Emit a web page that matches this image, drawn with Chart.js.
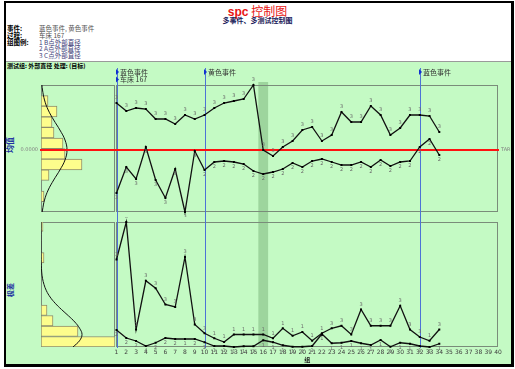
<!DOCTYPE html>
<html>
<head>
<meta charset="utf-8">
<script src="https://cdn.jsdelivr.net/npm/chart.js@4.4.1/dist/chart.umd.min.js"></script>
<style>
  body { margin: 0; background: #fff; }
  #page { position: relative; width: 515px; height: 369px; overflow: hidden; background: #fff;
          font-family: "Noto Sans CJK SC", sans-serif; }
  .t { position: absolute; white-space: nowrap; line-height: 1; }
  .b { font-weight: bold; color: #000; }
  canvas { position: absolute; }
</style>
</head>
<body>
<div id="page">
  <div style="position:absolute;left:4px;top:1px;width:505px;height:361px;border-style:solid;border-color:#000;border-width:2px 3px 3px 2px;"></div>
  <div style="position:absolute;left:6px;top:61px;width:505px;height:303px;background:#c4fac4;border-top:1px solid #9a9a9a;box-sizing:border-box;"></div>

  <div class="t" style="left:0;width:515px;text-align:center;top:5px;font-size:12px;color:#e81414;">
    <span style="font-family:'Liberation Sans',Arial,sans-serif;font-weight:bold;">spc</span> 控制图</div>
  <div class="t" style="left:0;width:515px;text-align:center;top:17px;font-size:7px;font-weight:bold;color:#1a1a5a;">多事件、多测试控制图</div>

  <div class="t b" style="left:7px;top:25px;font-size:6.5px;">事件:</div>
  <div class="t" style="left:39px;top:25px;font-size:6.5px;color:#505050;">蓝色事件, 黄色事件</div>
  <div class="t b" style="left:7px;top:31.5px;font-size:6.5px;">过程:</div>
  <div class="t" style="left:39px;top:31.5px;font-size:6.5px;color:#505050;">车床 167</div>
  <div class="t b" style="left:7px;top:38.5px;font-size:6.5px;">组图例:</div>
  <div class="t" style="left:39px;top:38.5px;font-size:6.5px;color:#44447a;">1 B点外部直径</div>
  <div class="t" style="left:39px;top:45px;font-size:6.5px;color:#44447a;">2 A点外部直径</div>
  <div class="t" style="left:39px;top:51.5px;font-size:6.5px;color:#44447a;">3 C点外部直径</div>
  <div class="t b" style="left:7px;top:63px;font-size:6px;">测试组: 外部直径 处理: (目标)</div>

  <div class="t" style="left:10px;top:145px;font-size:8px;font-weight:bold;color:#2030a0;transform:translate(-50%,-50%) rotate(-90deg);">均值</div>
  <div class="t" style="left:10px;top:290px;font-size:7px;font-weight:bold;color:#2030a0;transform:translate(-50%,-50%) rotate(-90deg);">极差</div>

  <canvas id="meanHist" width="101" height="155" style="left:15px;top:62px;"></canvas>
  <canvas id="meanMain" width="415" height="155" style="left:100px;top:62px;"></canvas>
  <canvas id="rangeHist" width="101" height="152" style="left:15px;top:217px;"></canvas>
  <canvas id="rangeMain" width="415" height="152" style="left:100px;top:217px;"></canvas>
</div>

<script>
// group numbers (x axis)
const groupNo = [1, 2, 3, 4, 5, 6, 7, 8, 9, 10, 11, 12, 13, 14, 15, 16, 17,
  18, 19, 20, 21, 22, 23, 24, 25, 26, 27, 28, 29, 30, 31, 32, 33, 34];
const xMin = 1, xMax = 40;

// mean panel
const meanHigh = [4.7, 3.9, 4.2, 4.1, 3.1, 3.1, 2.6, 3.5, 3.1, 3.5, 4.2, 4.7, 4.9, 5.1, 6.5, 0.0, -0.6,
  0.3, 0.9, 2.0, 2.3, 0.9, 1.5, 3.8, 2.8, 2.8, 4.4, 3.5, 1.5, 2.2, 3.5, 3.5, 3.4, 1.8];
const meanLow = [-4.3, -1.7, -2.9, 0.3, -3.0, -4.8, -1.9, -6.2, -0.1, -2.0, -1.2, -1.1, -1.2, -1.4, -2.1, -2.4, -2.2,
  -1.9, -1.3, -1.7, -1.1, -0.9, -1.2, -1.5, -1.5, -1.2, -1.7, -1.0, -1.6, -1.2, -1.1, 0.3, 1.1, -0.5];
const meanHighTag = ['3', '3', '3', '3', '3', '3', '3', '3', '3', '3', '3', '3', '3', '3', '3', '3', '3',
  '3', '3', '3', '3', '3', '3', '3', '3', '3', '3', '3', '3', '3', '3', '3', '3', '3'];
const meanLowTag = ['3', '3', '3', '3', '3', '3', '3', '3', '3', '2', '2', '2', '2', '2', '2', '2', '2',
  '2', '2', '2', '2', '2', '2', '2', '2', '2', '2', '2', '2', '2', '2', '2', '2', '2'];
const meanMin = -6.2, meanMax = 6.5, target = 0;

// range panel
const rangeHigh = [7.0, 10.0, 1.4, 5.3, 4.7, 3.4, 3.2, 7.2, 1.8, 1.1, 0.7, 0.4, 1.0, 1.0, 1.0, 1.0, 0.7,
  1.5, 0.9, 1.2, 0.5, 1.1, 1.5, 1.7, 1.0, 3.0, 1.7, 1.7, 1.7, 3.3, 1.4, 0.8, 0.5, 1.4];
const rangeLow = [1.36, 0.72, 0.48, 0.08, 0.34, 0.72, 0.64, 0.64, 0.64, 0.38, 0.08, 0.08, 0.0, 0.06, 0.06, 0.54, 0.38,
  0.14, 0.02, 0.02, 0.08, 1.04, 0.3, 0.34, 0.48, 0.3, 0.16, 0.56, 0.02, 0.34, 0.26, 0.08, 0.0, 0.26];
const rangeHighTag = ['3', '3', '3', '3', '3', '3', '3', '3', '3', '3', '1', '1', '1', '1', '1', '1', '1',
  '1', '1', '1', '1', '1', '3', '3', '3', '3', '3', '3', '3', '3', '3', '3', '1', '3'];
const rangeLowTag = ['2', '2', '2', '4', '2', '2', '2', '1', '2', '2', '1', '1', '1', '1', '1', '1', '1',
  '1', '1', '1', '1', '1', '1', '1', '1', '1', '1', '1', '1', '1', '1', '1', '1', '1'];
const rangeMin = 0, rangeMax = 10;

// histograms (bin middles and frequencies) and fitted curves
const histMax = 74;
const meanBinMid = [5.97, 4.91, 3.85, 2.79, 1.73, 0.67, -0.39, -1.45, -2.51, -3.57, -4.63, -5.69];
const meanBinCount = [0, 7, 16, 11, 13, 22, 24, 41, 8, 0, 3, 0];
const meanCurveAt = [6.5, 6, 5, 4, 3, 2, 1, 0, -1, -2, -3, -4, -5, -6, -6.2];
const meanCurveFreq = [0.9, 1.5, 3.5, 7.2, 12.7, 18.9, 24, 26, 24, 18.9, 12.7, 7.2, 3.5, 1.5, 1.2];
const rangeBinMid = [0.42, 1.26, 2.1, 2.94, 3.78, 4.62, 5.46, 6.3, 7.14, 7.98, 8.82, 9.66];
const rangeBinCount = [74, 37, 12, 6, 0, 0, 0, 0, 3, 0, 0, 2];
const rangeCurveAt = [0, 0.5, 1, 1.5, 2, 2.5, 3, 3.5, 4, 4.5, 5, 5.5, 6, 7, 8, 10];
const rangeCurveFreq = [32, 38.5, 41, 38.6, 33.8, 27.4, 20.5, 14.2, 9.1, 5.4, 3, 1.5, 0.7, 0.1, 0, 0];

// events
const eventAt = [1, 10, 32];
const eventText = [['蓝色事件', '车床 167'], ['黄色事件'], ['蓝色事件']];
const shadedGroup = 16;

Chart.defaults.font.family = '"DejaVu Sans", sans-serif';
const boxColor = '#7a8c7a';
const redColor = '#ff1010';

function drawBox(ctx, a) {
  const l = Math.floor(a.left) + 0.5, t = Math.floor(a.top) + 0.5;
  const r = Math.floor(a.right) - 0.5, b = Math.floor(a.bottom) - 0.5;
  ctx.strokeStyle = boxColor;
  ctx.lineWidth = 1;
  ctx.strokeRect(l, t, r - l, b - t);
}

const mainDecor = {
  id: 'mainDecor',
  beforeDatasetsDraw(chart, args, o) {
    const { ctx, chartArea: a, scales: { x, y } } = chart;
    ctx.save();
    // shaded group
    const s1 = x.getPixelForValue(shadedGroup - 0.5);
    const s2 = x.getPixelForValue(shadedGroup + 0.5);
    ctx.fillStyle = 'rgba(80,140,80,0.33)';
    ctx.fillRect(s1, o.bandTop, s2 - s1, o.bandBottom - o.bandTop);
    drawBox(ctx, a);
    // event lines
    ctx.strokeStyle = '#4d72d6';
    ctx.lineWidth = 1;
    eventAt.forEach(e => {
      const px = Math.round(x.getPixelForValue(e)) + 0.5;
      ctx.beginPath();
      ctx.moveTo(px, o.lineTop);
      ctx.lineTo(px, o.lineBottom);
      ctx.stroke();
    });
    // target line
    if (o.target) {
      const ty = y.getPixelForValue(target);
      ctx.strokeStyle = redColor;
      ctx.lineWidth = 2;
      ctx.beginPath();
      ctx.moveTo(a.left - 1, ty);
      ctx.lineTo(a.right + 1, ty);
      ctx.stroke();
      ctx.fillStyle = '#808080';
      ctx.font = '5px "DejaVu Sans"';
      ctx.textBaseline = 'middle';
      ctx.fillText('TAR', a.right + 3, ty);
    }
    // event labels
    if (o.labels) {
      ctx.textBaseline = 'middle';
      eventAt.forEach((e, i) => {
        const px = Math.round(x.getPixelForValue(e));
        eventText[i].forEach((txt, j) => {
          const yy = 10 + j * 7.5;
          ctx.fillStyle = '#1030d0';
          ctx.beginPath();
          ctx.moveTo(px - 1, yy - 3);
          ctx.lineTo(px + 2, yy);
          ctx.lineTo(px - 1, yy + 3);
          ctx.closePath();
          ctx.fill();
          ctx.fillStyle = '#333';
          ctx.font = '7px "Noto Sans CJK SC"';
          ctx.fillText(txt, px + 3, yy);
        });
      });
    }
    ctx.restore();
  },
  afterDatasetsDraw(chart) {
    const { ctx } = chart;
    ctx.save();
    ctx.fillStyle = '#6a6a6a';
    ctx.font = '5px "DejaVu Sans"';
    ctx.textAlign = 'center';
    ctx.textBaseline = 'middle';
    chart.data.datasets.forEach((ds, i) => {
      if (!ds.tags) return;
      chart.getDatasetMeta(i).data.forEach((pt, k) => {
        ctx.fillText(ds.tags[k], pt.x, pt.y + (ds.tagBelow ? 5 : -5));
      });
    });
    ctx.restore();
  }
};

const histDecor = {
  id: 'histDecor',
  beforeDatasetsDraw(chart) {
    const { ctx, chartArea: a } = chart;
    ctx.save();
    drawBox(ctx, a);
    ctx.restore();
  },
  afterDatasetsDraw(chart, args, o) {
    if (!o.target) return;
    const { ctx, chartArea: a, scales: { y } } = chart;
    const ty = y.getPixelForValue(target);
    ctx.save();
    ctx.strokeStyle = redColor;
    ctx.lineWidth = 2;
    ctx.beginPath();
    ctx.moveTo(a.left - 1, ty);
    ctx.lineTo(a.right + 1, ty);
    ctx.stroke();
    ctx.fillStyle = '#808080';
    ctx.font = '5px "DejaVu Sans"';
    ctx.textAlign = 'right';
    ctx.textBaseline = 'middle';
    ctx.fillText(target.toFixed(4), a.left - 3, ty);
    ctx.restore();
  }
};

function seriesSet(values, tags, below) {
  return {
    data: groupNo.map((g, i) => ({ x: g, y: values[i] })),
    borderColor: '#111',
    borderWidth: 1.3,
    pointStyle: 'rect',
    pointRadius: 1.4,
    pointBackgroundColor: '#000',
    pointBorderWidth: 0,
    tension: 0,
    clip: false,
    tags: tags,
    tagBelow: below
  };
}

function mainChart(id, high, highTag, low, lowTag, yMin, yMax, padding, decor, showX) {
  return new Chart(document.getElementById(id), {
    type: 'line',
    data: { datasets: [seriesSet(high, highTag, false), seriesSet(low, lowTag, true)] },
    options: {
      responsive: false,
      animation: false,
      events: [],
      layout: { padding },
      plugins: { legend: { display: false }, tooltip: { enabled: false }, mainDecor: decor },
      scales: {
        x: showX ? {
          type: 'linear', min: xMin, max: xMax,
          grid: { display: false, drawTicks: false }, border: { display: false },
          ticks: { stepSize: 1, autoSkip: false, maxRotation: 0, padding: 2, color: '#404040',
                   font: { size: 6 } },
          title: { display: true, text: '组', color: '#222', padding: { top: 0, bottom: 6 },
                   font: { size: 6, weight: 'bold', family: '"Noto Sans CJK SC"' } },
          afterFit: s => { s.height = 22; }
        } : { type: 'linear', min: xMin, max: xMax, display: false },
        y: { type: 'linear', min: yMin, max: yMax, display: false }
      }
    },
    plugins: [mainDecor]
  });
}

function histChart(id, mids, counts, curveAt, curveFreq, yMin, yMax, padding, showTarget) {
  return new Chart(document.getElementById(id), {
    type: 'bar',
    data: {
      datasets: [
        {
          type: 'line',
          data: curveAt.map((v, i) => ({ x: curveFreq[i], y: v })),
          borderColor: '#111',
          borderWidth: 1,
          pointRadius: 0,
          tension: 0.4,
          clip: true
        },
        {
          data: mids.map((m, i) => ({ x: counts[i], y: m })),
          backgroundColor: '#fdfd8c',
          borderColor: '#8c8c6c',
          borderWidth: 1,
          borderSkipped: false,
          barThickness: 'flex',
          barPercentage: 1,
          categoryPercentage: 1
        }
      ]
    },
    options: {
      indexAxis: 'y',
      responsive: false,
      animation: false,
      events: [],
      layout: { padding },
      plugins: { legend: { display: false }, tooltip: { enabled: false }, histDecor: { target: showTarget } },
      scales: {
        x: { type: 'linear', min: 0, max: histMax, display: false },
        y: { type: 'linear', min: yMin, max: yMax, display: false, offset: false, ticks: { includeBounds: false } }
      }
    },
    plugins: [histDecor]
  });
}

histChart('meanHist', meanBinMid, meanBinCount, meanCurveAt, meanCurveFreq, meanMin, meanMax,
  { left: 26, top: 23, right: 1, bottom: 5 }, true);
histChart('rangeHist', rangeBinMid, rangeBinCount, rangeCurveAt, rangeCurveFreq, rangeMin, rangeMax,
  { left: 26, top: 5, right: 1, bottom: 22 }, false);

mainChart('meanMain', meanHigh, meanHighTag, meanLow, meanLowTag, meanMin, meanMax,
  { left: 16.5, top: 23, right: 17, bottom: 5 },
  { bandTop: 20, bandBottom: 155, lineTop: 6, lineBottom: 155, target: true, labels: true }, false);
mainChart('rangeMain', rangeHigh, rangeHighTag, rangeLow, rangeLowTag, rangeMin, rangeMax,
  { left: 16.5, top: 5, right: 17, bottom: 0 },
  { bandTop: 0, bandBottom: 130, lineTop: 0, lineBottom: 131, target: false, labels: false }, true);
</script>
</body>
</html>
